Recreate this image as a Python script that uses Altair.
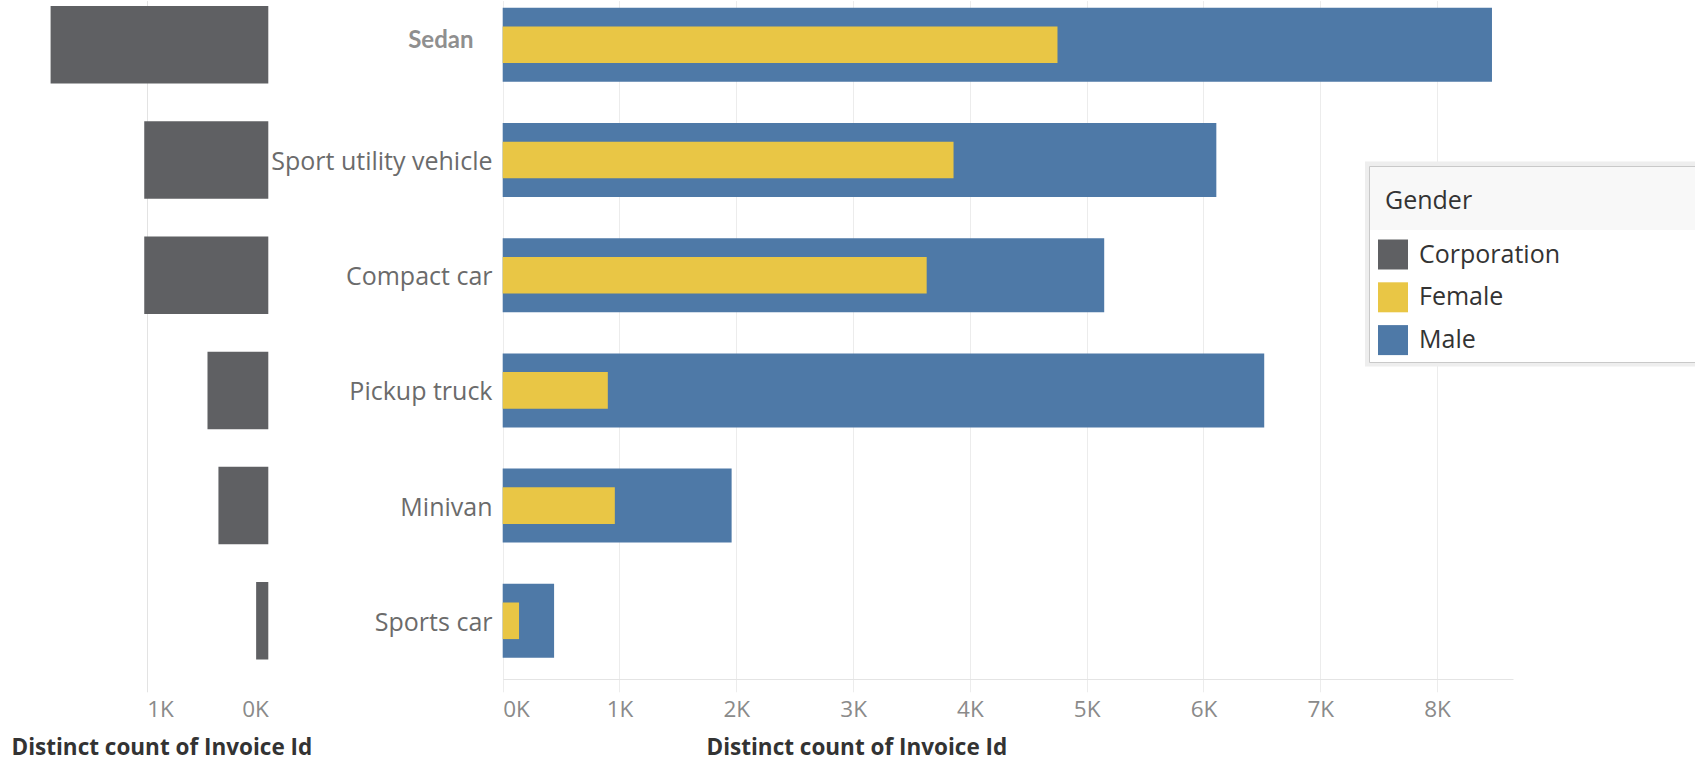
import altair as alt
import pandas as pd

# Vehicle types, top to bottom
categories = ["Sedan", "Sport utility vehicle", "Compact car", "Pickup truck", "Minivan", "Sports car"]

# Distinct count of invoice ids per customer group
corporation = [1790, 1020, 1020, 500, 410, 100]
female = [4750, 3860, 3630, 900, 960, 140]
male = [8470, 6110, 5150, 6520, 1960, 440]

genders = ["Corporation", "Female", "Male"]
gender_colors = ["#5f6063", "#e9c645", "#4e79a7"]


def frame(values, group):
    return pd.DataFrame({"vehicle": categories, "count": values, "gender": group})


corp_df = frame(corporation, "Corporation")
female_df = frame(female, "Female")
male_df = frame(male, "Male")

FONT = "Open Sans"
W, H = 1695, 679

sedan = "datum.value === 'Sedan'"

y_enc = alt.Y(
    "vehicle:N",
    sort=categories,
    scale=alt.Scale(domain=categories, range=[-12.8, 678.4], paddingInner=0, paddingOuter=0),
    axis=alt.Axis(
        title=None,
        orient="left",
        offset=-503,
        domain=False,
        ticks=False,
        tickSize=0,
        grid=False,
        labelLimit=400,
        labelFont={"condition": {"test": sedan, "value": "Lato"}, "value": FONT},
        labelFontSize={"condition": {"test": sedan, "value": 24}, "value": 25},
        labelFontWeight={"condition": {"test": sedan, "value": "bold"}, "value": "normal"},
        labelColor={"condition": {"test": sedan, "value": "#8f8f8f"}, "value": "#6b6b6b"},
        labelPadding={"condition": {"test": sedan, "value": 30}, "value": 11},
        labelOffset={"condition": {"test": sedan, "value": -4}, "value": 2},
    ),
)

color_enc = alt.Color(
    "gender:N",
    scale=alt.Scale(domain=genders, range=gender_colors),
    legend=alt.Legend(
        orient="none",
        legendX=1385,
        legendY=188.5,
        title="Gender",
        titleFont=FONT,
        titleFontSize=25,
        titleFontWeight="normal",
        titleColor="#333333",
        titlePadding=26,
        labelFont=FONT,
        labelFontSize=25,
        labelColor="#333333",
        labelLimit=300,
        labelOffset=11,
        symbolType="square",
        symbolSize=900,
        symbolStrokeWidth=0,
        symbolOffset=-7,
        rowPadding=12.8,
        padding=0,
    ),
)

x_title = "Distinct count of Invoice Id"
k_label = "datum.value / 1000 + 'K'"

# Left panel: corporate buyers, axis running right-to-left
corp_bars = alt.Chart(corp_df).mark_bar(size=77.5).encode(
    x=alt.X(
        "count:Q",
        scale=alt.Scale(domain=[0, 2206], range=[268.3, 0], zero=True, nice=False),
        axis=alt.Axis(
            orient="bottom",
            values=[0, 1000],
            labelExpr=k_label,
            title=x_title,
            grid=True,
            gridColor="#e3e3e3",
            gridOpacity={"condition": {"test": "datum.value === 0", "value": 0}, "value": 1},
            domain=False,
            ticks=False,
            tickSize=0,
            labelPadding=19,
            labelFlush=False,
            labelAlign={"condition": {"test": "datum.value === 0", "value": "right"}, "value": "left"},
            labelFont=FONT,
            labelFontSize=22.5,
            labelColor="#8a8a8a",
            titleFont=FONT,
            titleFontSize=22.5,
            titleFontWeight="bold",
            titleColor="#333333",
            titleX=11,
            titleY=75.5,
            titleAlign="left",
            titleAnchor="start",
            titleBaseline="alphabetic",
        ),
    ),
    y=y_enc,
    color=color_enc,
)

right_scale = alt.Scale(domain=[0, 8650], range=[502.7, 1513], zero=True, nice=False)

# Right panel: male buyers (wide bars) with female buyers overlaid (narrow bars)
male_bars = alt.Chart(male_df).mark_bar(size=74).encode(
    x=alt.X(
        "count:Q",
        scale=right_scale,
        axis=alt.Axis(
            orient="bottom",
            values=[0, 1000, 2000, 3000, 4000, 5000, 6000, 7000, 8000],
            labelExpr=k_label,
            title=x_title,
            grid=True,
            gridColor="#ececec",
            domain=True,
            domainColor="#e4e4e4",
            ticks=True,
            tickColor="#ececec",
            tickSize=8,
            labelPadding=11,
            labelFlush=True,
            labelFont=FONT,
            labelFontSize=22.5,
            labelColor="#8a8a8a",
            titleFont=FONT,
            titleFontSize=22.5,
            titleFontWeight="bold",
            titleColor="#333333",
            titleX=706,
            titleY=75.5,
            titleAlign="left",
            titleAnchor="start",
            titleBaseline="alphabetic",
        ),
    ),
    y=y_enc,
    color=color_enc,
)

female_bars = alt.Chart(female_df).mark_bar(size=36.6).encode(
    x=alt.X("count:Q", scale=right_scale, axis=None),
    y=y_enc,
    color=color_enc,
)

# Legend frame: soft outer border, thin inner border, shaded header strip
blank = alt.Data(values=[{}])
legend_shadow = alt.Chart(blank).mark_rect(fill="#eeeeee").encode(
    x=alt.value(1365), x2=alt.value(1700), y=alt.value(161.5), y2=alt.value(366.5)
)
legend_box = alt.Chart(blank).mark_rect(fill="#ffffff", stroke="#c9c9c9", strokeWidth=1).encode(
    x=alt.value(1369.5), x2=alt.value(1710), y=alt.value(166.5), y2=alt.value(362.5)
)
legend_head = alt.Chart(blank).mark_rect(fill="#f8f8f8").encode(
    x=alt.value(1370), x2=alt.value(1700), y=alt.value(167), y2=alt.value(230)
)

chart = (
    alt.layer(legend_shadow, legend_box, legend_head, corp_bars, male_bars, female_bars)
    .resolve_scale(x="independent")
    .properties(
        width=W,
        height=H,
        autosize=alt.AutoSizeParams(type="none"),
        padding={"left": 0, "top": 0, "right": 0, "bottom": 82},
    )
    .configure(font=FONT, background="#ffffff")
    .configure_view(strokeWidth=0)
)

chart.save("out.html", embed_options={"renderer": "svg", "actions": False})
